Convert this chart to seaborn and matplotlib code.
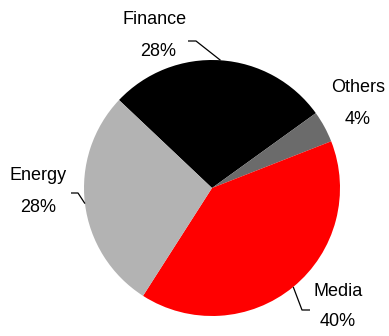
import numpy as np
import matplotlib
matplotlib.use("Agg")
import matplotlib.pyplot as plt
import seaborn as sns

categories = ["Finance", "Others", "Media", "Energy"]
shares = [28, 4, 40, 28]
colors = ["#000000", "#6B6B6B", "#FF0000", "#B3B3B3"]

sns.set_theme(style="white")
plt.rcParams["font.family"] = ["Liberation Sans", "DejaVu Sans"]

W, H = 389, 336
fig = plt.figure(figsize=(W / 100, H / 100), dpi=100)
ax = fig.add_axes([0, 0, 1, 1])

cx, cy, R = 212, 148, 128
wedges, _ = ax.pie(shares, colors=colors, startangle=136.6, counterclock=False,
                   center=(cx, cy), radius=R, frame=True,
                   wedgeprops=dict(linewidth=0))
ax.set_xlim(0, W)
ax.set_ylim(0, H)
ax.set_aspect("equal")
ax.axis("off")

# label layout: (name line position, percent line position, elbow, end of horizontal)
layout = {
    "Finance": dict(t=(155, 316), p=(158, 284), elbow=(196, 295), end=(188, 295)),
    "Others": dict(t=(358, 248), p=(358, 216), elbow=None, end=None),
    "Media": dict(t=(338, 44), p=(338, 14), elbow=(302, 26), end=(310, 26)),
    "Energy": dict(t=(38, 160), p=(38, 128), elbow=(78, 143), end=(71, 143)),
}
fs = 13
for w, name, v in zip(wedges, categories, shares):
    L = layout[name]
    ax.text(*L["t"], name, ha="center", va="center", fontsize=fs, color="black")
    ax.text(*L["p"], f"{v}%", ha="center", va="center", fontsize=fs, color="black")
    if L["elbow"] is not None:
        mid = np.deg2rad((w.theta1 + w.theta2) / 2)
        sx, sy = cx + R * np.cos(mid), cy + R * np.sin(mid)
        ax.plot([sx, L["elbow"][0], L["end"][0]], [sy, L["elbow"][1], L["end"][1]],
                color="black", lw=0.9, solid_capstyle="butt")

fig.savefig("out.png", dpi=100, facecolor="white")
